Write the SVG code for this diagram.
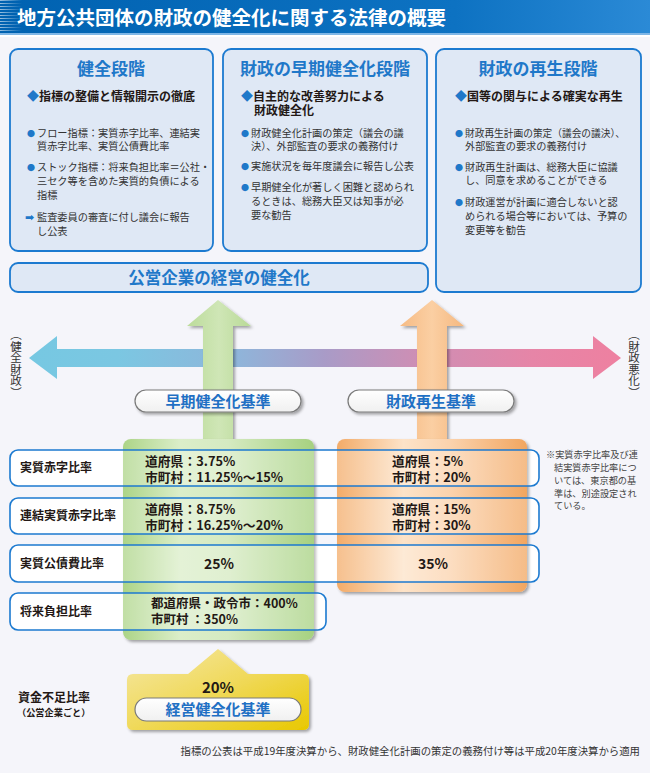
<svg xmlns="http://www.w3.org/2000/svg" width="650" height="773" viewBox="0 0 650 773">
<defs>
<style>
text{font-family:"Noto Sans CJK JP","Noto Sans",sans-serif;fill:#231815}
.ttl{font-size:19.5px;font-weight:700;fill:#fff}
.ph{font-size:17px;font-weight:700;fill:#1f78c9}
.hd{font-size:12px;font-weight:700;fill:#231815}
.bl{fill:#1f78c9}
.sm{font-size:10.2px;fill:#333}
.dot{font-size:8px;fill:#1f78c9}
.lbl{font-size:12px;font-weight:700}
.val{font-size:12.8px;font-weight:700}
.pl{font-size:15px;font-weight:700;fill:#1f70c4}
.note{font-size:9.2px;fill:#444}
.panel{fill:#dfe8f5;stroke:#1c7ad0;stroke-width:1.8}
.row{fill:#fff;fill-opacity:0.25;stroke:#1c7ad0;stroke-width:1.6}
.rowbg{fill:#fff}
.pill{fill:url(#gPill);stroke:#7a7a7a;stroke-width:1.2}
</style>
<linearGradient id="gTitle" x1="0" y1="0" x2="1" y2="0">
<stop offset="0" stop-color="#0062b1"/><stop offset="0.7" stop-color="#0d72c2"/><stop offset="1" stop-color="#2b8ad6"/>
</linearGradient>
<pattern id="stripes" width="4" height="3" patternUnits="userSpaceOnUse">
<rect width="4" height="1" fill="#fff"/>
</pattern>
<linearGradient id="gStripeFade" x1="0" y1="0" x2="1" y2="0">
<stop offset="0" stop-color="#fff" stop-opacity="1"/><stop offset="1" stop-color="#fff" stop-opacity="0"/>
</linearGradient>
<mask id="mStripe"><rect x="0" y="0" width="22" height="34" fill="url(#gStripeFade)"/></mask>
<linearGradient id="gAxis" gradientUnits="userSpaceOnUse" x1="29" y1="0" x2="621" y2="0">
<stop offset="0" stop-color="#76c8e2"/><stop offset="0.15" stop-color="#7bc7e2"/><stop offset="0.35" stop-color="#8fb5da"/><stop offset="0.5" stop-color="#a99bc7"/><stop offset="0.65" stop-color="#cc8fb5"/><stop offset="0.85" stop-color="#e685a7"/><stop offset="1" stop-color="#ee80a0"/>
</linearGradient>
<linearGradient id="gGreenArrow" x1="0" y1="0" x2="1" y2="0">
<stop offset="0" stop-color="#bcdc9b"/><stop offset="0.5" stop-color="#cfe6b6"/><stop offset="1" stop-color="#b9da97"/>
</linearGradient>
<linearGradient id="gOrangeArrow" x1="0" y1="0" x2="1" y2="0">
<stop offset="0" stop-color="#f6bb84"/><stop offset="0.5" stop-color="#fbcfa3"/><stop offset="1" stop-color="#f5b87f"/>
</linearGradient>
<linearGradient id="gGreen" x1="0" y1="0" x2="1" y2="0">
<stop offset="0" stop-color="#acd487"/><stop offset="0.3" stop-color="#dbeec9"/><stop offset="0.55" stop-color="#d5eac1"/><stop offset="1" stop-color="#a6d180"/>
</linearGradient>
<linearGradient id="gOrange" x1="0" y1="0" x2="1" y2="0">
<stop offset="0" stop-color="#f3ab68"/><stop offset="0.35" stop-color="#fde3c8"/><stop offset="0.6" stop-color="#fbd2ac"/><stop offset="1" stop-color="#f2a660"/>
</linearGradient>
<linearGradient id="gYellow" x1="0" y1="0" x2="1" y2="1">
<stop offset="0" stop-color="#f5e8a6"/><stop offset="0.5" stop-color="#f0d95a"/><stop offset="1" stop-color="#e8c800"/>
</linearGradient>
<linearGradient id="gPill" x1="0" y1="0" x2="0" y2="1">
<stop offset="0" stop-color="#ffffff"/><stop offset="1" stop-color="#f0f0f0"/>
</linearGradient>
<filter id="shadow" x="-10%" y="-10%" width="130%" height="130%">
<feDropShadow dx="2" dy="2" stdDeviation="1.5" flood-color="#000" flood-opacity="0.35"/>
</filter>
</defs>

<rect x="0" y="0" width="650" height="773" fill="#f5f5fa"/>

<g id="title">
<rect x="0" y="0" width="650" height="34" fill="url(#gTitle)"/>
<rect x="0" y="0" width="22" height="34" fill="url(#stripes)" mask="url(#mStripe)" opacity="0.6"/>
<rect x="0" y="33" width="650" height="2" fill="#7fb6e6"/>
<rect x="0" y="35" width="650" height="2" fill="#ffffff"/>
<text class="ttl" x="17" y="25">地方公共団体の財政の健全化に関する法律の概要</text>
</g>

<g id="panel-kenzen">
<rect class="panel" x="10" y="49" width="203" height="202" rx="8"/>
<text class="ph" x="111" y="75" text-anchor="middle">健全段階</text>
<text class="hd" x="27" y="101"><tspan class="bl">◆</tspan>指標の整備と情報開示の徹底</text>
<text class="sm" x="27" y="137"><tspan class="dot">●</tspan><tspan x="37">フロー指標：実質赤字比率、連結実</tspan></text>
<text class="sm" x="37" y="150">質赤字比率、実質公債費比率</text>
<text class="sm" x="27" y="171"><tspan class="dot">●</tspan><tspan x="37">ストック指標：将来負担比率＝公社・</tspan></text>
<text class="sm" x="37" y="185">三セク等を含めた実質的負債による</text>
<text class="sm" x="37" y="199">指標</text>
<text class="sm" x="25" y="221"><tspan style="font-family:'DejaVu Sans',sans-serif;font-weight:700;font-size:11px;fill:#1f78c9">➡</tspan><tspan x="37">監査委員の審査に付し議会に報告</tspan></text>
<text class="sm" x="37" y="235">し公表</text>
</g>

<g id="panel-souki">
<rect class="panel" x="223" y="49" width="204" height="202" rx="8"/>
<text class="ph" x="325" y="75" text-anchor="middle">財政の早期健全化段階</text>
<text class="hd" x="241" y="101"><tspan class="bl">◆</tspan>自主的な改善努力による</text>
<text class="hd" x="254" y="115">財政健全化</text>
<text class="sm" x="241" y="137"><tspan class="dot">●</tspan><tspan x="251">財政健全化計画の策定（議会の議</tspan></text>
<text class="sm" x="251" y="150">決）、外部監査の要求の義務付け</text>
<text class="sm" x="241" y="170"><tspan class="dot">●</tspan><tspan x="251">実施状況を毎年度議会に報告し公表</tspan></text>
<text class="sm" x="241" y="191"><tspan class="dot">●</tspan><tspan x="251">早期健全化が著しく困難と認められ</tspan></text>
<text class="sm" x="251" y="205">るときは、総務大臣又は知事が必</text>
<text class="sm" x="251" y="219">要な勧告</text>
</g>

<g id="panel-saisei">
<rect class="panel" x="436" y="49" width="205" height="243" rx="8"/>
<text class="ph" x="538" y="75" text-anchor="middle">財政の再生段階</text>
<text class="hd" x="455" y="101"><tspan class="bl">◆</tspan>国等の関与による確実な再生</text>
<text class="sm" x="455" y="137"><tspan class="dot">●</tspan><tspan x="465" textLength="160" lengthAdjust="spacingAndGlyphs">財政再生計画の策定（議会の議決）、</tspan></text>
<text class="sm" x="465" y="150">外部監査の要求の義務付け</text>
<text class="sm" x="455" y="171"><tspan class="dot">●</tspan><tspan x="465">財政再生計画は、総務大臣に協議</tspan></text>
<text class="sm" x="465" y="184">し、同意を求めることができる</text>
<text class="sm" x="455" y="206"><tspan class="dot">●</tspan><tspan x="465">財政運営が計画に適合しないと認</tspan></text>
<text class="sm" x="465" y="220">められる場合等においては、予算の</text>
<text class="sm" x="465" y="234">変更等を勧告</text>
</g>

<g id="panel-kouei">
<rect class="panel" x="10" y="263" width="418" height="29" rx="8"/>
<text class="ph" x="219" y="284" text-anchor="middle" style="font-size:16.5px">公営企業の経営の健全化</text>
</g>

<g id="connectors">
<polygon points="29,358 57,336 57,349 593,349 593,336 621,358 593,379 593,367 57,367 57,379" fill="url(#gAxis)"/>
<polygon points="218,300 251,326 233,326 233,440 203,440 203,326 187,326" fill="url(#gGreenArrow)" filter="url(#shadow)"/>
<polygon points="432,300 464,326 447,326 447,440 417,440 417,326 400,326" fill="url(#gOrangeArrow)" filter="url(#shadow)"/>
</g>

<g id="axis-labels">
<text x="16" y="329" style="writing-mode:vertical-rl;font-size:11.5px;fill:#333">（健全財政）</text>
<text x="634" y="329" style="writing-mode:vertical-rl;font-size:11.5px;fill:#333">（財政悪化）</text>
</g>

<g id="pill-souki">
<rect class="pill" x="135" y="390" width="166" height="22" rx="11" filter="url(#shadow)"/>
<text class="pl" x="218" y="406.5" text-anchor="middle">早期健全化基準</text>
</g>
<g id="pill-saisei">
<rect class="pill" x="348" y="390" width="166" height="22" rx="11" filter="url(#shadow)"/>
<text class="pl" x="431" y="406.5" text-anchor="middle">財政再生基準</text>
</g>

<g id="row-bg">
<rect class="rowbg" x="10" y="450" width="529" height="36" rx="8"/>
<rect class="rowbg" x="10" y="498" width="529" height="36" rx="8"/>
<rect class="rowbg" x="10" y="545" width="529" height="37" rx="8"/>
<rect class="rowbg" x="10" y="593" width="316" height="37" rx="8"/>
</g>

<g id="green-box">
<rect x="123" y="439" width="191" height="201" rx="8" fill="url(#gGreen)" filter="url(#shadow)"/>
</g>
<g id="orange-box">
<rect x="337" y="439" width="190" height="153" rx="8" fill="url(#gOrange)" filter="url(#shadow)"/>
</g>

<g id="row-jisshitsu">
<rect class="row" x="10" y="450" width="529" height="36" rx="8"/>
<text class="lbl" x="20" y="472">実質赤字比率</text>
<text class="val" x="145" y="466">道府県：3.75%</text>
<text class="val" x="145" y="482">市町村：11.25%～15%</text>
<text class="val" x="392" y="466">道府県：5%</text>
<text class="val" x="392" y="482">市町村：20%</text>
</g>
<g id="row-renketsu">
<rect class="row" x="10" y="498" width="529" height="36" rx="8"/>
<text class="lbl" x="20" y="520">連結実質赤字比率</text>
<text class="val" x="145" y="514">道府県：8.75%</text>
<text class="val" x="145" y="530">市町村：16.25%～20%</text>
<text class="val" x="392" y="514">道府県：15%</text>
<text class="val" x="392" y="530">市町村：30%</text>
</g>
<g id="row-kousai">
<rect class="row" x="10" y="545" width="529" height="37" rx="8"/>
<text class="lbl" x="20" y="568">実質公債費比率</text>
<text class="val" x="219" y="569" text-anchor="middle" style="font-size:14px">25%</text>
<text class="val" x="433" y="569" text-anchor="middle" style="font-size:14px">35%</text>
</g>
<g id="row-shourai">
<rect class="row" x="10" y="593" width="316" height="37" rx="8"/>
<text class="lbl" x="20" y="616">将来負担比率</text>
<text class="val" x="151" y="608" style="font-size:12.5px">都道府県・政令市：400%</text>
<text class="val" x="151" y="624" style="font-size:12.5px">市町村 ：350%</text>
</g>

<g id="note">
<text class="note" x="546" y="458">※実質赤字比率及び連</text>
<text class="note" x="554" y="471">結実質赤字比率につ</text>
<text class="note" x="554" y="484">いては、東京都の基</text>
<text class="note" x="554" y="497">準は、別途設定され</text>
<text class="note" x="554" y="509">ている。</text>
</g>

<g id="shikin">
<path d="M133,674 L188,674 L218,649 L248,674 L303,674 Q309,674 309,680 L309,724 Q309,730 303,730 L133,730 Q127,730 127,724 L127,680 Q127,674 133,674 Z" fill="url(#gYellow)" filter="url(#shadow)"/>
<text class="val" x="218" y="692.5" text-anchor="middle" style="font-size:15px">20%</text>
<rect class="pill" x="135" y="698" width="166" height="23" rx="11.5"/>
<text class="pl" x="218" y="715" text-anchor="middle">経営健全化基準</text>
<text class="lbl" x="18" y="702">資金不足比率</text>
<text x="17" y="716" style="font-size:9.2px;font-weight:700">（公営企業ごと）</text>
</g>

<g id="footer">
<text x="640" y="755" text-anchor="end" style="font-size:10.4px;fill:#333">指標の公表は平成19年度決算から、財政健全化計画の策定の義務付け等は平成20年度決算から適用</text>
</g>
</svg>
